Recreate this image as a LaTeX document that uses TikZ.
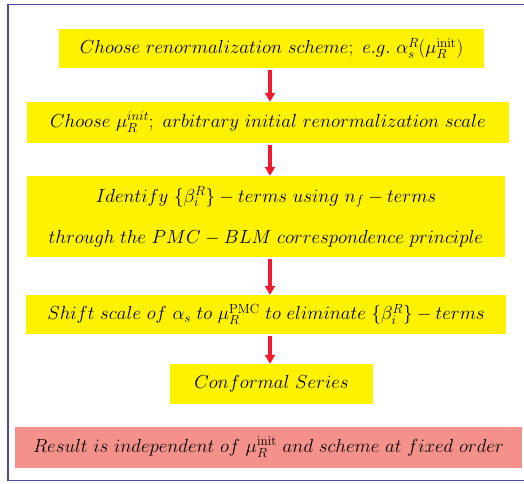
\RequirePackage{fix-cm}
\documentclass[tikz,border=0pt]{standalone}
\usepackage{amsmath}
\usepackage{tikz}
\usetikzlibrary{positioning, arrows.meta, calc}
\definecolor{boxyellow}{HTML}{FFF200}
\definecolor{boxpink}{HTML}{F4918A}
\definecolor{framecol}{HTML}{4B4BA0}
\definecolor{arrowred}{HTML}{EE1C2E}
\tikzset{
    stepbox/.style={fill=boxyellow, inner sep=0pt, align=center,
        font=\fontsize{18.9}{22}\selectfont},
    resultbox/.style={stepbox, fill=boxpink},
    flow/.style={arrowred, line width=3.5pt,
        -{Triangle[width=10pt,length=9pt]}, shorten <=2pt}
}
\begin{document}
\begin{tikzpicture}[x=1pt, y=-1pt]
    \useasboundingbox (0,0) rectangle (524,483);

    % frame
    \draw[framecol, line width=1.4pt] (8,4.5) rectangle (540,480.5);

    % steps
    \node[stepbox, minimum width=425pt, minimum height=39pt] (b1) at (271.5,48.5)
        {$Choose\ renormalization\ scheme;\ e.g.\ \alpha_s^R(\mu_R^{\rm init})$};
    \node[stepbox, minimum width=482pt, minimum height=41pt] (b2) at (268,122.5)
        {$Choose\ \mu_R^{init};\ arbitrary\ initial\ renormalization\ scale$};
    \node[stepbox, minimum width=478pt, minimum height=81pt] (b3) at (266,216.5)
        {$Identify\ \{\beta_i^R\}-terms\ using\ n_f-terms$\\[19pt]
         $through\ the\ PMC-BLM\ correspondence\ principle$};
    \node[stepbox, minimum width=480pt, minimum height=39pt] (b4) at (266,314.5)
        {$Shift\ scale\ of\ \alpha_s\ to\ \mu_R^{\rm PMC}\ to\ eliminate\ \{\beta_i^R\}-terms$};
    \node[stepbox, minimum width=203pt, minimum height=40pt] (b5) at (271.5,384)
        {$Conformal\ Series$};
    \node[resultbox, minimum width=507pt, minimum height=41pt] (res) at (268.5,447.5)
        {$Result\ is\ independent\ of\ \mu_R^{\rm init}\ and\ scheme\ at\ fixed\ order$};

    % arrows
    \coordinate (axis) at (270,0);
    \draw[flow] (b1.south -| axis) -- (b2.north -| axis);
    \draw[flow] (b2.south -| axis) -- (b3.north -| axis);
    \draw[flow] (b3.south -| axis) -- (b4.north -| axis);
    \draw[flow] (b4.south -| axis) -- (b5.north -| axis);
\end{tikzpicture}
\end{document}
